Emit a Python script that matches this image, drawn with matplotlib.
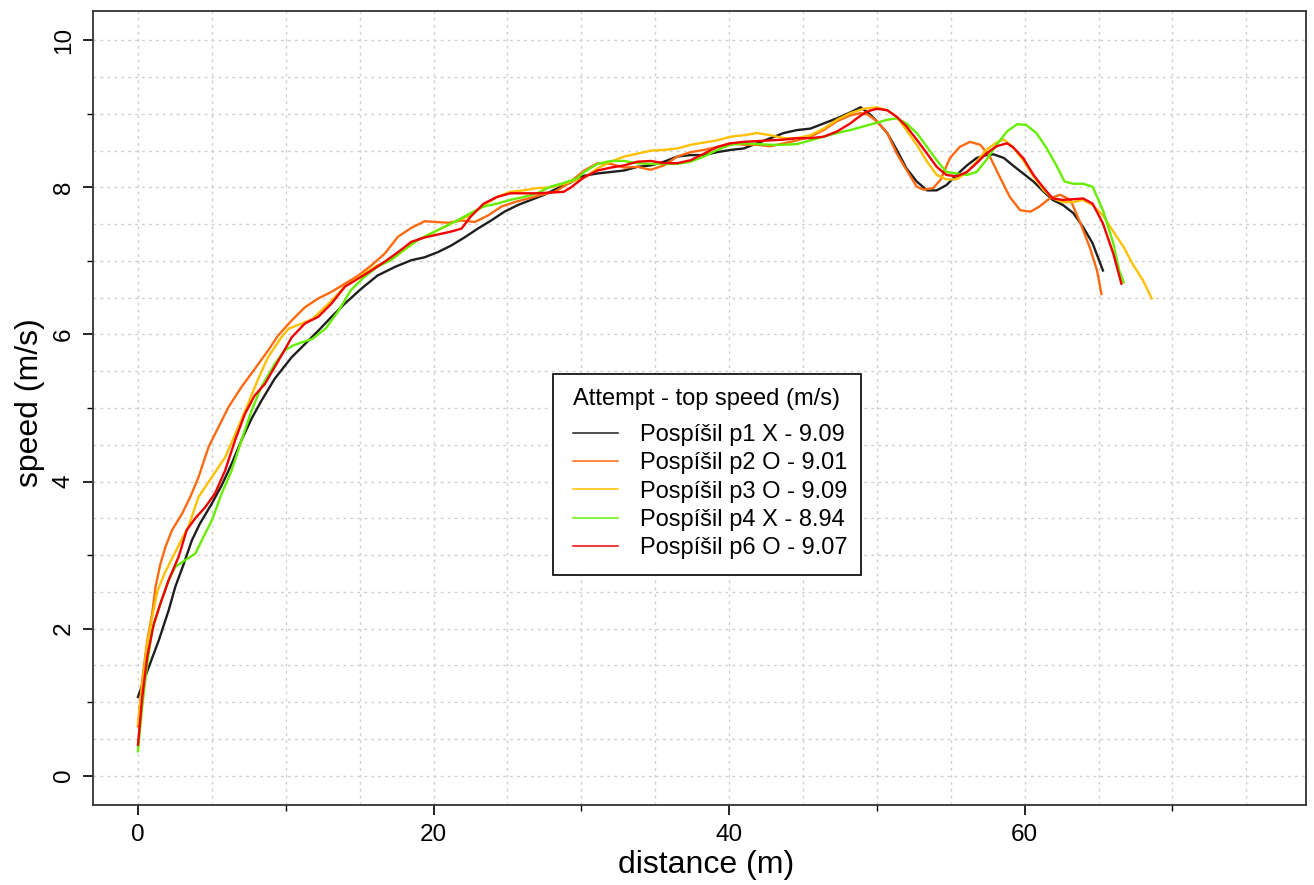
import numpy as np
import matplotlib
matplotlib.use("Agg")
import matplotlib.pyplot as plt
from matplotlib.lines import Line2D
from matplotlib.patches import Rectangle

plt.rcParams['font.family'] = ['Liberation Sans', 'DejaVu Sans']

# (distance m, speed m/s) samples per attempt
p1 = [(0, 1.07), (0.74, 1.48), (1.41, 1.84), (2.08, 2.25), (2.53, 2.57), (3.1, 2.88),
      (3.65, 3.2), (4.2, 3.43), (5.0, 3.7), (5.67, 3.95), (6.34, 4.24), (7.0, 4.56),
      (7.7, 4.86), (8.36, 5.1), (9.26, 5.4), (10.4, 5.69), (11.3, 5.87), (12.2, 6.05),
      (13.1, 6.24), (14.0, 6.42), (15.1, 6.62), (16.2, 6.8), (17.4, 6.92), (18.5, 7.01),
      (19.4, 7.05), (20.3, 7.12), (21.2, 7.21), (22.1, 7.32), (23.0, 7.44), (23.9, 7.55),
      (24.8, 7.67), (25.7, 7.76), (26.6, 7.83), (27.5, 7.9), (28.4, 7.99), (29.3, 8.07),
      (30.2, 8.16), (31.1, 8.19), (32.0, 8.21), (32.9, 8.23), (33.8, 8.28), (34.7, 8.3),
      (35.6, 8.35), (36.5, 8.42), (37.4, 8.44), (38.3, 8.44), (39.2, 8.48), (40.1, 8.51),
      (41.0, 8.53), (41.9, 8.6), (42.8, 8.67), (43.7, 8.74), (44.6, 8.78), (45.5, 8.8),
      (46.4, 8.87), (47.3, 8.94), (48.2, 9.02), (48.9, 9.09), (49.5, 9.0), (50.0, 8.9),
      (50.7, 8.74), (51.35, 8.51), (52.0, 8.26), (52.7, 8.08), (53.4, 7.96), (54.05, 7.96),
      (54.7, 8.03), (55.4, 8.17), (56.1, 8.3), (56.75, 8.4), (57.4, 8.44), (57.9, 8.45),
      (58.6, 8.4), (59.2, 8.3), (59.9, 8.19), (60.6, 8.08), (61.3, 7.94), (61.9, 7.83),
      (62.6, 7.76), (63.3, 7.65), (63.96, 7.46), (64.6, 7.24), (65.3, 6.87)]

p2 = [(0, 0.67), (0.29, 1.3), (0.63, 1.84), (0.96, 2.2), (1.19, 2.57), (1.52, 2.88),
      (1.86, 3.11), (2.31, 3.34), (2.98, 3.56), (3.54, 3.79), (4.1, 4.06), (4.78, 4.47),
      (5.45, 4.74), (6.12, 5.01), (7.02, 5.29), (7.9, 5.53), (8.8, 5.78), (9.5, 5.99),
      (10.4, 6.19), (11.3, 6.37), (12.2, 6.49), (13.1, 6.58), (14.0, 6.69), (14.9, 6.8),
      (15.8, 6.94), (16.7, 7.1), (17.6, 7.33), (18.5, 7.45), (19.4, 7.54), (20.1, 7.53),
      (21.0, 7.52), (21.9, 7.55), (22.8, 7.53), (23.7, 7.62), (24.6, 7.74), (25.5, 7.8),
      (26.4, 7.85), (27.3, 7.9), (28.2, 7.94), (29.1, 8.05), (30.2, 8.23), (31.1, 8.33),
      (32.0, 8.32), (32.9, 8.27), (33.8, 8.28), (34.7, 8.24), (35.6, 8.3), (36.5, 8.42),
      (37.4, 8.48), (38.3, 8.51), (39.2, 8.55), (40.1, 8.6), (41.0, 8.58), (41.9, 8.58),
      (42.8, 8.56), (43.7, 8.6), (44.6, 8.64), (45.5, 8.69), (46.4, 8.78), (47.3, 8.9),
      (48.2, 8.98), (48.9, 9.01), (49.4, 8.99), (50.0, 8.9), (50.7, 8.74), (51.35, 8.46),
      (52.0, 8.24), (52.7, 8.01), (53.15, 7.97), (53.8, 7.99), (54.3, 8.1), (54.95, 8.4),
      (55.6, 8.55), (56.3, 8.62), (57.0, 8.58), (57.65, 8.42), (58.3, 8.15), (59.0, 7.87),
      (59.7, 7.69), (60.4, 7.67), (61.0, 7.74), (61.7, 7.85), (62.4, 7.9), (63.1, 7.83),
      (63.7, 7.55), (64.4, 7.19), (64.9, 6.87), (65.2, 6.55)]

p3 = [(0, 0.7), (0.3, 1.25), (0.63, 1.8), (0.96, 2.15), (1.3, 2.5), (1.8, 2.75),
      (2.3, 2.95), (2.8, 3.15), (3.4, 3.38), (4.1, 3.79), (5.0, 4.06), (5.9, 4.33),
      (6.7, 4.7), (7.5, 5.08), (8.1, 5.38), (8.8, 5.69), (9.7, 5.96), (10.2, 6.08),
      (11.1, 6.15), (11.8, 6.21), (12.9, 6.42), (14.0, 6.65), (15.1, 6.8), (16.2, 6.94),
      (17.1, 7.01), (18.0, 7.15), (18.9, 7.28), (19.8, 7.37), (20.7, 7.46), (21.6, 7.55),
      (22.5, 7.62), (23.4, 7.76), (24.3, 7.87), (25.2, 7.94), (26.1, 7.96), (27.0, 7.99),
      (27.9, 8.0), (28.8, 8.05), (29.7, 8.1), (30.2, 8.13), (31.1, 8.26), (32.0, 8.35),
      (32.9, 8.42), (33.8, 8.46), (34.7, 8.5), (35.6, 8.51), (36.5, 8.53), (37.4, 8.58),
      (38.3, 8.61), (39.2, 8.64), (40.1, 8.69), (41.0, 8.71), (41.9, 8.74), (42.8, 8.71),
      (43.7, 8.67), (44.6, 8.67), (45.5, 8.71), (46.4, 8.8), (47.3, 8.92), (48.2, 9.01),
      (49.1, 9.07), (50.0, 9.09), (50.7, 9.05), (51.35, 8.96), (52.0, 8.78), (52.7, 8.58),
      (53.4, 8.35), (54.05, 8.17), (54.7, 8.11), (55.4, 8.11), (56.1, 8.21), (56.75, 8.35),
      (57.4, 8.51), (58.1, 8.61), (58.6, 8.65), (59.2, 8.55), (59.9, 8.37), (60.6, 8.15),
      (61.3, 7.96), (61.9, 7.85), (62.6, 7.8), (63.3, 7.8), (63.96, 7.83), (64.6, 7.76),
      (65.3, 7.62), (66.0, 7.4), (66.7, 7.19), (67.3, 6.96), (68.0, 6.74), (68.6, 6.49)]

p4 = [(0, 0.33), (0.29, 0.94), (0.63, 1.53), (0.96, 1.98), (1.52, 2.34), (2.08, 2.66),
      (2.53, 2.84), (3.2, 2.93), (3.88, 3.02), (4.44, 3.25), (5.0, 3.47), (5.67, 3.84),
      (6.34, 4.15), (7.0, 4.56), (7.7, 4.97), (8.36, 5.29), (9.26, 5.6), (9.9, 5.78),
      (10.5, 5.85), (10.9, 5.88), (11.8, 5.94), (12.7, 6.08), (13.6, 6.33), (14.4, 6.6),
      (15.3, 6.78), (16.2, 6.92), (17.1, 7.01), (18.0, 7.15), (18.9, 7.28), (19.8, 7.37),
      (20.7, 7.46), (21.6, 7.55), (22.5, 7.65), (23.4, 7.74), (24.3, 7.78), (25.2, 7.83),
      (26.1, 7.87), (27.0, 7.92), (27.9, 8.01), (28.8, 8.06), (29.7, 8.12), (30.2, 8.21),
      (31.1, 8.32), (32.0, 8.36), (32.9, 8.36), (33.8, 8.33), (34.7, 8.32), (35.6, 8.32),
      (36.5, 8.32), (37.4, 8.35), (38.3, 8.42), (39.2, 8.51), (40.1, 8.58), (41.0, 8.6),
      (41.9, 8.59), (42.8, 8.58), (43.7, 8.58), (44.6, 8.59), (45.5, 8.64), (46.4, 8.69),
      (47.3, 8.74), (48.2, 8.78), (49.1, 8.83), (50.0, 8.88), (50.7, 8.92), (51.35, 8.94),
      (52.0, 8.87), (52.7, 8.74), (53.4, 8.55), (54.05, 8.37), (54.7, 8.21), (55.4, 8.19),
      (56.1, 8.17), (56.75, 8.21), (57.4, 8.37), (58.1, 8.58), (58.8, 8.76), (59.5, 8.86),
      (60.1, 8.85), (60.8, 8.74), (61.5, 8.53), (62.2, 8.28), (62.7, 8.08), (63.3, 8.05),
      (63.96, 8.05), (64.6, 8.01), (65.3, 7.69), (66.0, 7.24), (66.4, 6.87), (66.7, 6.71)]

p6 = [(0, 0.42), (0.29, 1.07), (0.63, 1.62), (1.08, 2.07), (1.52, 2.34), (2.08, 2.66),
      (2.76, 2.98), (3.3, 3.34), (3.88, 3.5), (4.55, 3.65), (5.22, 3.84), (5.9, 4.15),
      (6.57, 4.56), (7.24, 4.92), (7.9, 5.17), (8.6, 5.33), (9.26, 5.56), (9.9, 5.78),
      (10.4, 5.96), (11.3, 6.15), (12.2, 6.24), (13.1, 6.42), (14.0, 6.65), (14.9, 6.76),
      (15.8, 6.87), (16.7, 6.99), (17.6, 7.12), (18.5, 7.26), (19.4, 7.32), (20.3, 7.36),
      (21.2, 7.4), (21.9, 7.44), (22.5, 7.6), (23.4, 7.78), (24.3, 7.87), (25.2, 7.92),
      (26.1, 7.92), (27.0, 7.92), (27.9, 7.93), (28.8, 7.94), (29.3, 8.0), (30.2, 8.14),
      (31.1, 8.23), (32.0, 8.27), (32.9, 8.3), (33.8, 8.35), (34.7, 8.36), (35.6, 8.33),
      (36.5, 8.33), (37.4, 8.37), (38.3, 8.46), (39.2, 8.55), (40.1, 8.6), (41.0, 8.62),
      (41.9, 8.63), (42.8, 8.64), (43.7, 8.65), (44.6, 8.67), (45.5, 8.67), (46.4, 8.69),
      (47.3, 8.76), (48.2, 8.87), (48.65, 8.94), (49.3, 9.03), (50.0, 9.07), (50.7, 9.05),
      (51.35, 8.96), (52.0, 8.83), (52.7, 8.65), (53.4, 8.46), (54.05, 8.28), (54.7, 8.17),
      (55.4, 8.15), (56.1, 8.21), (56.75, 8.33), (57.4, 8.46), (58.1, 8.56), (58.8, 8.6),
      (59.2, 8.55), (59.9, 8.4), (60.6, 8.17), (61.3, 7.99), (61.9, 7.85), (62.6, 7.83),
      (63.3, 7.84), (63.96, 7.85), (64.6, 7.78), (65.3, 7.51), (66.0, 7.1), (66.55, 6.69)]

attempts = ["Pospíšil p1 X", "Pospíšil p2 O", "Pospíšil p3 O", "Pospíšil p4 X", "Pospíšil p6 O"]
top_speeds = [9.09, 9.01, 9.09, 8.94, 9.07]
colors = ["#1e1e1e", "#FF6A10", "#FFC000", "#66EE00", "#F00000"]
series = [p1, p2, p3, p4, p6]

fig = plt.figure(figsize=(13.14, 8.85), dpi=100)
ax = fig.add_axes([0.0708, 0.0904, 0.9231, 0.8972])

# dotted background grid, 5 m by 0.5 m/s
for gx in np.arange(0, 80, 5):
    ax.axvline(gx, color="#cfcfcf", lw=1.0, ls=(0, (2, 3)), zorder=0)
for gy in np.arange(0, 10.5, 0.5):
    ax.axhline(gy, color="#cfcfcf", lw=1.0, ls=(0, (2, 3)), zorder=0)

for pts, col in zip(series, colors):
    d, v = np.array(pts).T
    ax.plot(d, v, color=col, lw=1.7, zorder=2)

ax.set_xlim(-3.04, 79.04)
ax.set_ylim(-0.4, 10.4)
ax.set_xticks([0, 20, 40, 60])
ax.set_xticks([10, 30, 50, 70], minor=True)
ax.set_yticks([0, 2, 4, 6, 8, 10])
ax.set_yticks([1, 3, 5, 7, 9], minor=True)
ax.tick_params(which="major", direction="out", length=7, width=1.2, labelsize=17.5, pad=7)
ax.tick_params(which="minor", direction="out", length=4, width=1.0)
ax.tick_params(axis="y", labelrotation=90, pad=6)
for lab in ax.get_yticklabels():
    lab.set_va("center")
for s in ax.spines.values():
    s.set_color("#333333")
    s.set_linewidth(1.3)

fig.text(0.5376, 0.0226, "distance (m)", ha="center", va="center", fontsize=23)
fig.text(0.0228, 0.5446, "speed (m/s)", ha="center", va="center", fontsize=23, rotation=90)

# legend box with its title
ax.add_patch(Rectangle((0.3792, 0.2897), 0.2539, 0.2531, transform=ax.transAxes,
                       facecolor="white", edgecolor="black", lw=1.2, zorder=5))
ax.text(0.3957, 0.5114, "Attempt - top speed (m/s)", transform=ax.transAxes,
        ha="left", va="center", fontsize=17, zorder=6)
handles = [Line2D([], [], color=c, lw=1.1) for c in colors]
labels = [f"{a} - {t:.2f}" for a, t in zip(attempts, top_speeds)]
leg = ax.legend(handles, labels, loc="upper left", bbox_to_anchor=(0.3957, 0.4799),
                frameon=False, fontsize=17, borderpad=0, handlelength=1.9,
                handletextpad=0.93, labelspacing=0.27, borderaxespad=0)
leg.set_zorder(6)

fig.savefig("out.png", dpi=100)
